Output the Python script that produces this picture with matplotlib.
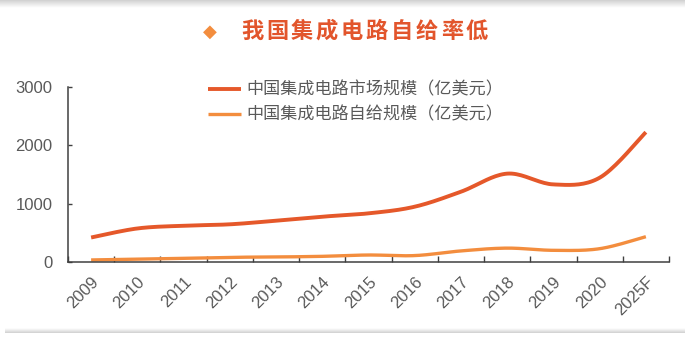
import matplotlib.pyplot as plt
import numpy as np

# 中国集成电路市场规模与自给规模(亿美元)
ANNOS = ["2009", "2010", "2011", "2012", "2013", "2014", "2015",
         "2016", "2017", "2018", "2019", "2020", "2025F"]
MERCADO = [420, 575, 622, 646, 708, 777, 834, 948, 1205, 1515, 1330, 1445, 2225]
AUTOSUMINISTRO = [35, 48, 63, 80, 86, 97, 120, 110, 190, 238, 200, 228, 434]

ETIQUETA_MERCADO = "中国集成电路市场规模（亿美元）"
ETIQUETA_AUTO = "中国集成电路自给规模（亿美元）"
TITULO = "我国集成电路自给率低"

COLOR_MERCADO = "#E5582A"
COLOR_AUTO = "#F38D3E"
COLOR_TITULO = "#E2552C"
GRIS = "#595959"

plt.rcParams['font.family'] = ['Noto Sans CJK SC', 'DejaVu Sans']


# Curva suavizada tipo Catmull-Rom que pasa por todos los puntos
def suavizar(x, y, pasos=20):
    x = np.asarray(x, dtype=float)
    y = np.asarray(y, dtype=float)
    xs, ys = [], []
    n = len(x)
    for i in range(n - 1):
        x0, y0 = (x[i - 1], y[i - 1]) if i > 0 else (x[i], y[i])
        x3, y3 = (x[i + 2], y[i + 2]) if i + 2 < n else (x[i + 1], y[i + 1])
        x1, y1, x2, y2 = x[i], y[i], x[i + 1], y[i + 1]
        c1x, c1y = x1 + (x2 - x0) / 6, y1 + (y2 - y0) / 6
        c2x, c2y = x2 - (x3 - x1) / 6, y2 - (y3 - y1) / 6
        t = np.linspace(0, 1, pasos, endpoint=(i == n - 2))
        b0, b1, b2, b3 = (1 - t) ** 3, 3 * t * (1 - t) ** 2, 3 * t ** 2 * (1 - t), t ** 3
        xs.extend(b0 * x1 + b1 * c1x + b2 * c2x + b3 * x2)
        ys.extend(b0 * y1 + b1 * c1y + b2 * c2y + b3 * y2)
    return np.array(xs), np.array(ys)


fig = plt.figure(figsize=(6.85, 3.38), dpi=100)
ax = fig.add_axes([68 / 685, 1 - 262 / 338, 601 / 685, 175 / 338])

posiciones = np.arange(len(ANNOS))
xm, ym = suavizar(posiciones, MERCADO)
xa, ya = suavizar(posiciones, AUTOSUMINISTRO)
ax.plot(xm, ym, color=COLOR_MERCADO, lw=2.8, solid_capstyle='butt', label=ETIQUETA_MERCADO)
ax.plot(xa, ya, color=COLOR_AUTO, lw=2.4, solid_capstyle='butt', label=ETIQUETA_AUTO)

ax.set_xlim(-0.5, len(ANNOS) - 0.5)
ax.set_ylim(0, 3000)
ax.set_yticks([0, 1000, 2000, 3000])
ax.set_xticks(posiciones)
ax.set_xticklabels(ANNOS, rotation=45, ha='right', rotation_mode='anchor',
                   fontfamily='Liberation Sans', fontsize=12, color=GRIS)
ax.set_xticks(np.arange(-0.5, len(ANNOS)), minor=True)
ax.tick_params(axis='x', which='major', length=0, pad=9)
ax.tick_params(axis='x', which='minor', direction='in', length=4.5, width=1, color='#404040')
ax.tick_params(axis='y', direction='in', length=3, width=1, color='#404040', pad=11,
               labelsize=12, labelcolor=GRIS)
for lab in ax.get_yticklabels():
    lab.set_fontfamily('Liberation Sans')

for lado in ['top', 'right']:
    ax.spines[lado].set_visible(False)
for lado in ['left', 'bottom']:
    ax.spines[lado].set_color('#404040')
    ax.spines[lado].set_linewidth(1.1)

ley = ax.legend(loc='upper left', bbox_to_anchor=(199 / 685, 1 - 72 / 338),
                bbox_transform=fig.transFigure, frameon=False, fontsize=12.3,
                handlelength=1.95, handletextpad=0.3, labelspacing=0.42, borderpad=0)
for t in ley.get_texts():
    t.set_color(GRIS)

# Título con rombo
fig.text(210 / 685, 1 - 32 / 338, "◆", color=COLOR_AUTO, fontsize=13,
         ha='center', va='center', family=['DejaVu Sans'])
for i, letra in enumerate(TITULO):
    fig.text((252 + 25 * i) / 685, 1 - 31 / 338, letra, color=COLOR_TITULO,
             fontsize=16, fontweight='bold', ha='center', va='center')

# Bandas grises arriba y abajo
gradiente = np.linspace(0.82, 1.0, 16).reshape(-1, 1)
banda_sup = fig.add_axes([0, 1 - 8 / 338, 1, 8 / 338])
banda_sup.imshow(gradiente, cmap='gray', vmin=0, vmax=1, aspect='auto')
banda_sup.axis('off')
banda_inf = fig.add_axes([5 / 685, 1 - 333 / 338, 680 / 685, 5 / 338])
banda_inf.imshow(gradiente[::-1], cmap='gray', vmin=0, vmax=1, aspect='auto')
banda_inf.axis('off')

fig.savefig("out.png", dpi=100)
